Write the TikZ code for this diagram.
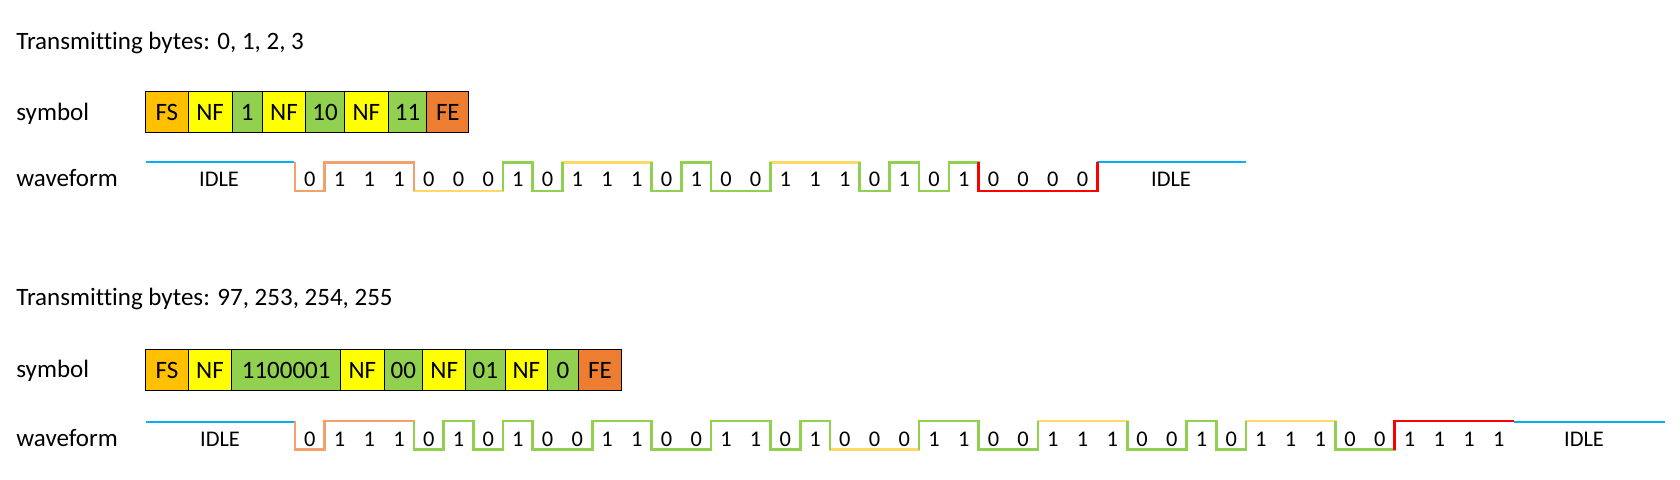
\documentclass[tikz,border=0pt]{standalone}
\usepackage{fontspec}
\setmainfont{Carlito}[Ligatures={NoCommon}]
\definecolor{cFS}{HTML}{FFC000}
\definecolor{cNF}{HTML}{FFFF00}
\definecolor{cDat}{HTML}{92D050}
\definecolor{cFE}{HTML}{ED7D31}
\definecolor{wOr}{HTML}{F2A06C}
\definecolor{wYe}{HTML}{FFD966}
\definecolor{wGr}{HTML}{92D050}
\definecolor{wRe}{HTML}{FF0000}
\definecolor{wBl}{HTML}{00B0F0}
\newcommand\wxo{295}
\newcommand\wbw{29.72}
\newcommand\wamp{28.5}
\newcommand\wseg[7]{% style, low y, start, prev, bits, end, next
  \draw[#1] ({\wxo+\wbw*#3},{#2-\wamp*#4})
    \foreach \vv [count=\kk from #3] in {#5} { -- ({\wxo+\wbw*\kk},{#2-\wamp*\vv}) -- ({\wxo+\wbw*(\kk+1)},{#2-\wamp*\vv}) }
    -- ({\wxo+\wbw*#6},{#2-\wamp*#7});
}
\newcommand\symcell[7]{% name, x1, x2, ytop, ybot, fill, text
  \node[cellst, fill=#6, minimum width={(#3-#2)*0.5pt}, minimum height={(#5-#4)*0.5pt}] (#1) at ({(#2+#3)/2},{(#4+#5)/2}) {#7};
}
\tikzset{
  lbl/.style={anchor=base west, inner sep=0pt, font=\fontsize{12.5}{15}\selectfont},
  cellst/.style={draw=black, line width=0.5pt, inner sep=0pt, text height=0pt, text depth=0pt, font=\fontsize{12.5}{15}\selectfont},
  dig/.style={anchor=base, inner sep=0pt, font=\fontsize{11.2}{13}\selectfont},
  wave/.style={line width=1.35pt, line join=miter},
  idle/.style={line width=1pt, wBl},
}
\begin{document}
\begin{tikzpicture}[x=0.5pt, y=-0.5pt]
\path[use as bounding box, fill=white] (0,0) rectangle (1680,480);

% ---------- first example ----------
\node[lbl] (t1) at (16,50) {Transmitting bytes: 0, 1, 2, 3};
\node[lbl] (l1s) at (16,120.5) {symbol};
\node[lbl] (l1w) at (16,187) {waveform};

\symcell{a1}{145.5}{188.2}{92}{133}{cFS}{\raisebox{-0.33em}{FS}}
\symcell{a2}{188.2}{232.1}{92}{133}{cNF}{\raisebox{-0.33em}{NF}}
\symcell{a3}{232.1}{262.5}{92}{133}{cDat}{\raisebox{-0.33em}{1}}
\symcell{a4}{262.5}{305.4}{92}{133}{cNF}{\raisebox{-0.33em}{NF}}
\symcell{a5}{305.4}{344.6}{92}{133}{cDat}{\raisebox{-0.33em}{10}}
\symcell{a6}{344.6}{388.2}{92}{133}{cNF}{\raisebox{-0.33em}{NF}}
\symcell{a7}{388.2}{426.8}{92}{133}{cDat}{\raisebox{-0.33em}{11}}
\symcell{a8}{426.8}{468.9}{92}{133}{cFE}{\raisebox{-0.33em}{FE}}

\draw[idle] (145.5,162.5) -- (293.5,162.5);
\draw[idle] ({\wxo+\wbw*27},162.5) -- (1246,162.5);
\node[dig] (i1a) at (219,187) {IDLE};
\node[dig] (i1b) at (1171,187) {IDLE};

\wseg{wave,wYe}{191}{4}{1}{0,0,0}{7}{1}
\wseg{wave,wYe}{191}{9}{0}{1,1,1}{12}{0}
\wseg{wave,wYe}{191}{16}{0}{1,1,1}{19}{0}
\wseg{wave,wOr}{191}{0}{1}{0,1,1,1}{4}{0}
\wseg{wave,wGr}{191}{7}{0}{1,0}{9}{1}
\wseg{wave,wGr}{191}{12}{1}{0,1,0,0}{16}{1}
\wseg{wave,wGr}{191}{19}{1}{0,1,0,1}{23}{0}
\wseg{wave,wRe}{191}{23}{1}{0,0,0,0}{27}{1}

\foreach \vv [count=\kk from 0] in {0,1,1,1,0,0,0,1,0,1,1,1,0,1,0,0,1,1,1,0,1,0,1,0,0,0,0}
  \node[dig] (w1-\kk) at ({\wxo+\wbw*(\kk+0.5)},187) {\vv};

% ---------- second example ----------
\node[lbl] (t2) at (16,306) {Transmitting bytes: 97, 253, 254, 255};
\node[lbl] (l2s) at (16,378) {symbol};
\node[lbl] (l2w) at (16,446) {waveform};

\symcell{b1}{145.7}{188.3}{349.5}{391}{cFS}{\raisebox{-0.33em}{FS}}
\symcell{b2}{188.3}{231.7}{349.5}{391}{cNF}{\raisebox{-0.33em}{NF}}
\symcell{b3}{231.7}{340.7}{349.5}{391}{cDat}{\raisebox{-0.33em}{1100001}}
\symcell{b4}{340.7}{384}{349.5}{391}{cNF}{\raisebox{-0.33em}{NF}}
\symcell{b5}{384}{422.7}{349.5}{391}{cDat}{\raisebox{-0.33em}{00}}
\symcell{b6}{422.7}{465.7}{349.5}{391}{cNF}{\raisebox{-0.33em}{NF}}
\symcell{b7}{465.7}{505}{349.5}{391}{cDat}{\raisebox{-0.33em}{01}}
\symcell{b8}{505}{547.7}{349.5}{391}{cNF}{\raisebox{-0.33em}{NF}}
\symcell{b9}{547.7}{578.3}{349.5}{391}{cDat}{\raisebox{-0.33em}{0}}
\symcell{b10}{578.3}{621.7}{349.5}{391}{cFE}{\raisebox{-0.33em}{FE}}

\draw[idle] (145.5,421.5) -- (293.5,421.5);
\draw[idle] ({\wxo+\wbw*41},421.5) -- (1665,421.5);
\node[dig] (i2a) at (220,446.5) {IDLE};
\node[dig] (i2b) at (1584,446.5) {IDLE};

\wseg{wave,wYe}{449.5}{18}{1}{0,0,0}{21}{1}
\wseg{wave,wYe}{449.5}{25}{0}{1,1,1}{28}{0}
\wseg{wave,wYe}{449.5}{32}{0}{1,1,1}{35}{0}
\wseg{wave,wOr}{449.5}{0}{1}{0,1,1,1}{4}{0}
\wseg{wave,wGr}{449.5}{4}{1}{0,1,0,1,0,0,1,1,0,0,1,1,0,1}{18}{0}
\wseg{wave,wGr}{449.5}{21}{0}{1,1,0,0}{25}{1}
\wseg{wave,wGr}{449.5}{28}{1}{0,0,1,0}{32}{1}
\wseg{wave,wGr}{449.5}{35}{1}{0,0}{37}{1}
\wseg{wave,wRe}{449.5}{37}{0}{1,1,1,1}{41}{1}

\foreach \vv [count=\kk from 0] in {0,1,1,1,0,1,0,1,0,0,1,1,0,0,1,1,0,1,0,0,0,1,1,0,0,1,1,1,0,0,1,0,1,1,1,0,0,1,1,1,1}
  \node[dig] (w2-\kk) at ({\wxo+\wbw*(\kk+0.5)},446.5) {\vv};
\end{tikzpicture}
\end{document}
